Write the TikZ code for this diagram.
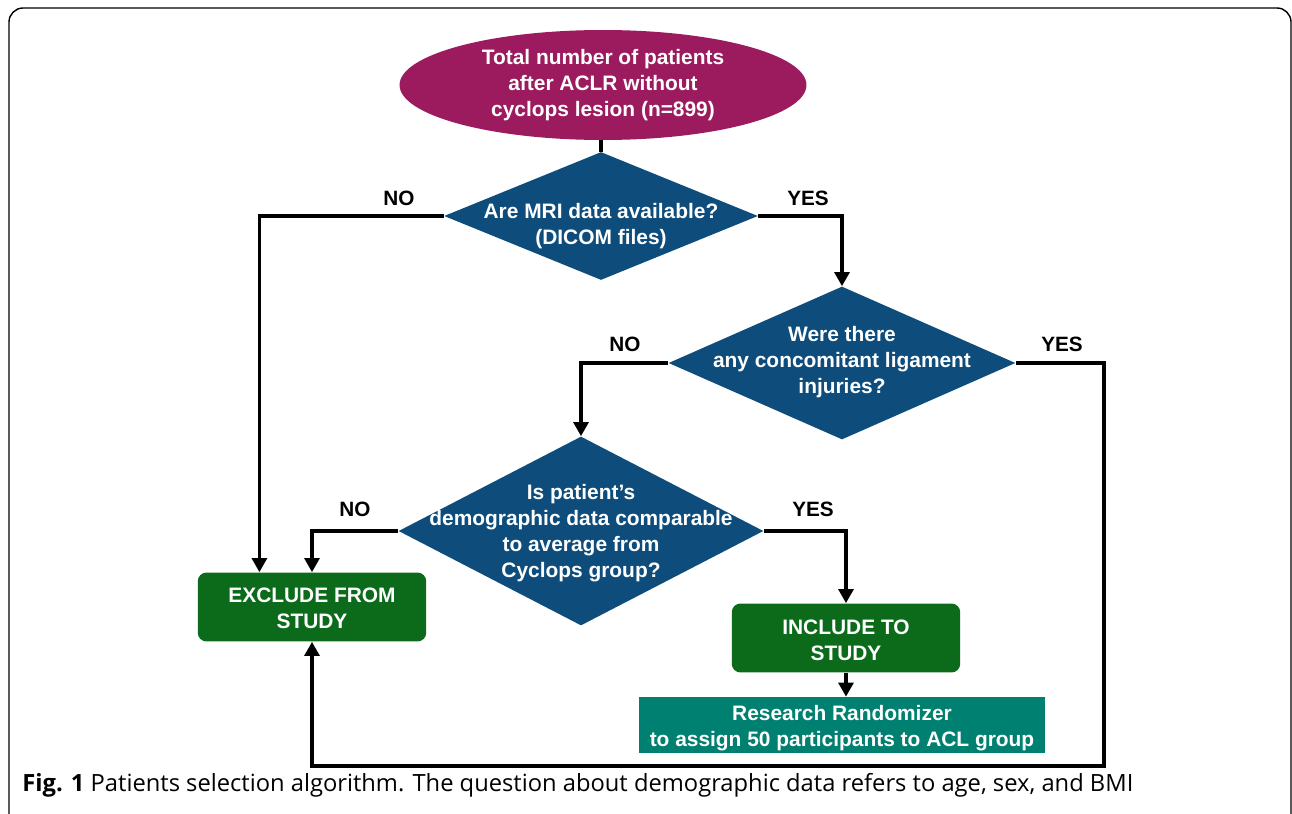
\documentclass[tikz,border=0pt]{standalone}
\usepackage{fontspec}
\setmainfont{Liberation Sans}
\newfontfamily\capfont{Open Sans}
\usepackage{tikz}
\usetikzlibrary{shapes.geometric,arrows.meta}
\definecolor{ellcol}{RGB}{156,27,94}
\definecolor{diacol}{RGB}{14,77,123}
\definecolor{boxcol}{RGB}{11,107,26}
\definecolor{randcol}{RGB}{0,128,112}

\begin{document}
\begin{tikzpicture}[x=0.02cm,y=-0.02cm,
  txt/.style={text=white,font=\fontsize{11.9}{14.8}\selectfont\bfseries,align=center,inner sep=0pt},
  lbl/.style={font=\fontsize{11.8}{14.8}\selectfont\bfseries,inner sep=0pt},
  dia/.style={diamond,fill=diacol,inner sep=0pt},
  box/.style={rectangle,fill=boxcol,rounded corners=5pt,minimum width=4.57cm,minimum height=1.38cm},
  arr/.style={-{Triangle[width=8.5pt,length=8pt]},line width=1.8pt},
  ln/.style={line width=1.8pt}]
\useasboundingbox (0,0) rectangle (1292,814);
\draw[line width=0.8pt,rounded corners=8pt] (9,820) -- (9,8) -- (1291,8) -- (1291,820);

\node[ellipse,fill=ellcol,minimum width=8.14cm,minimum height=2.2cm,inner sep=0pt] at(603,85) (start) {};
\node[txt] at(603,85) {Total number of patients\\after ACLR without\\cyclops lesion (n=899)};

\node[dia,minimum width=6.28cm,minimum height=2.56cm] at(601,216) (d1) {};
\node[txt] at(601,226) {Are MRI data available?\\(DICOM files)};

\node[dia,minimum width=6.94cm,minimum height=3.06cm] at(842,363) (d2) {};
\node[txt] at(842,362) {Were there\\any concomitant ligament\\injuries?};

\node[dia,minimum width=7.3cm,minimum height=3.78cm] at(581,531) (d3) {};
\node[txt] at(581,533) {Is patient's\\demographic data comparable\\to average from\\Cyclops group?};

\node[box] at(312,607) (excl) {};
\node[txt] at(312,608) {EXCLUDE FROM\\STUDY};

\node[box] at(846,638) (incl) {};
\node[txt] at(846,640) {INCLUDE TO\\STUDY};

\node[rectangle,fill=randcol,minimum width=8.12cm,minimum height=1.12cm] at(842,725) (rand) {};
\node[txt] at(842,728) {Research Randomizer\\to assign 50 participants to ACL group};

\coordinate (loop) at(1104,766);

\draw[ln] (start.south -| d1.north) -- (d1.north);
\draw[arr] (d1.west) -| ([xshift=1.24cm]excl.north west);
\draw[arr] (d1.east) -| (d2.north);
\draw[arr] (d2.west) -| (d3.north);
\draw[arr] (d2.east) -| (loop) -| (excl.south);
\draw[arr] (d3.west) -| (excl.north);
\draw[arr] (d3.east) -| (incl.north);
\draw[arr] (incl.south) -- (incl.south |- rand.north);

\node[lbl] at(399,198) {NO};
\node[lbl] at(808,198) {YES};
\node[lbl] at(625,344) {NO};
\node[lbl] at(1062,344) {YES};
\node[lbl] at(355,509) {NO};
\node[lbl] at(813,509) {YES};

\node[anchor=base west,font=\capfont\fontsize{13.5}{15}\selectfont,inner sep=0pt] at(22,791) (cap) {\textbf{Fig. 1} Patients selection algorithm. The question about demographic data refers to age, sex, and BMI};
\end{tikzpicture}
\end{document}
